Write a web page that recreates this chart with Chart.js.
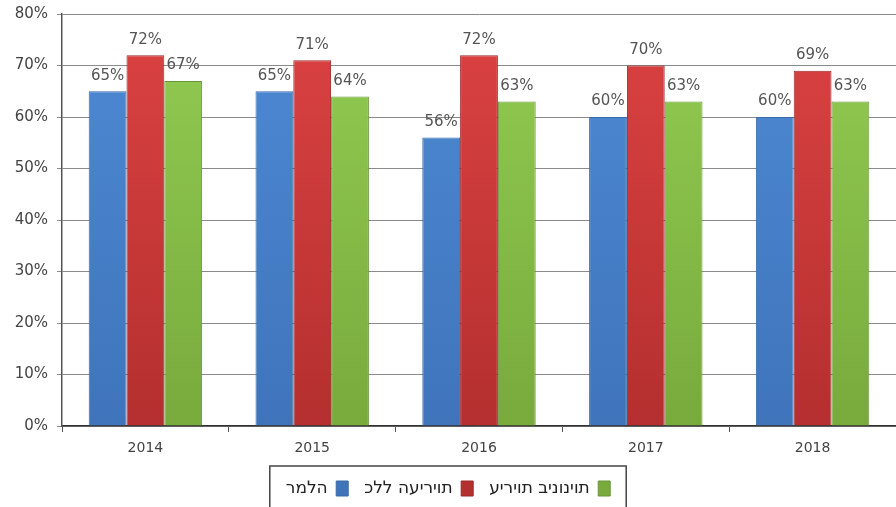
<!DOCTYPE html>
<html dir="ltr">
<head>
<meta charset="utf-8">
<script src="https://cdn.jsdelivr.net/npm/chart.js@4/dist/chart.umd.min.js"></script>
<style>
  html, body { margin: 0; padding: 0; background: #fff; }
  #wrap { width: 896px; height: 507px; position: relative; }
</style>
</head>
<body>
<div id="wrap"><canvas id="BarChart"></canvas></div>
<script>
var years = ["2014", "2015", "2016", "2017", "2018"];
var ramla = [65, 65, 56, 60, 60];          // רמלה
var allCities = [72, 71, 72, 70, 69];      // כלל העיריות
var midCities = [67, 64, 63, 63, 63];      // עיריות בינוניות
var yTicks = [0, 10, 20, 30, 40, 50, 60, 70, 80];

// vertical shading like the original 3D bars
function shade(top, bottom) {
  return function (c) {
    var area = c.chart.chartArea;
    if (!area) return top;
    var g = c.chart.ctx.createLinearGradient(0, area.top, 0, area.bottom);
    g.addColorStop(0, top);
    g.addColorStop(1, bottom);
    return g;
  };
}

// the canvas here draws hebrew without bidi, so hand it visual order
function visual(s) {
  return Array.from(s).reverse().join('');
}

// value labels above bars
var valueLabels = {
  id: 'valueLabels',
  afterDatasetsDraw: function (chart) {
    var ctx = chart.ctx;
    ctx.save();
    ctx.font = '15px "DejaVu Sans"';
    ctx.fillStyle = '#555';
    ctx.textAlign = 'center';
    ctx.textBaseline = 'bottom';
    chart.data.datasets.forEach(function (ds, i) {
      chart.getDatasetMeta(i).data.forEach(function (bar, j) {
        ctx.fillText(ds.data[j] + '%', bar.x, bar.y - 8);
      });
    });
    ctx.restore();
  }
};

// frame around the legend
var legendFrame = {
  id: 'legendFrame',
  afterDraw: function (chart) {
    var boxes = chart.legend.legendHitBoxes;
    if (!boxes || !boxes.length) return;
    var l = Infinity, r = -Infinity, t = Infinity;
    boxes.forEach(function (b) {
      l = Math.min(l, b.left); r = Math.max(r, b.left + b.width); t = Math.min(t, b.top);
    });
    var ctx = chart.ctx;
    ctx.save();
    ctx.strokeStyle = '#444';
    ctx.lineWidth = 1.5;
    ctx.strokeRect(l - 16, t - 14, (r - l) + 32, 60);
    ctx.restore();
  }
};

new Chart(document.getElementById('BarChart').getContext('2d'), {
  type: 'bar',
  data: {
    labels: years,
    datasets: [
      { label: 'רמלה', data: ramla, backgroundColor: shade('#4d8ad4', '#3f74bb'), borderColor: '#3a6aa8', borderWidth: 1 },
      { label: 'כלל העיריות', data: allCities, backgroundColor: shade('#dc4242', '#b42f2f'), borderColor: '#9a2828', borderWidth: 1 },
      { label: 'עיריות בינוניות', data: midCities, backgroundColor: shade('#92cc52', '#78aa3c'), borderColor: '#6a963a', borderWidth: 1 }
    ]
  },
  options: {
    responsive: true,
    maintainAspectRatio: false,
    animation: false,
    layout: { padding: { top: 14, left: 0, right: 0, bottom: 0 } },
    datasets: { bar: { categoryPercentage: 0.68, barPercentage: 1.0 } },
    scales: {
      x: {
        offset: true,
        grid: { offset: true, drawOnChartArea: false, color: '#555', tickLength: 6 },
        border: { color: '#333', width: 1.5 },
        ticks: { color: '#444', font: { family: 'DejaVu Sans', size: 14 }, padding: 8 },
        afterFit: function (s) { s.height = 38; }
      },
      y: {
        min: 0, max: 80,
        afterBuildTicks: function (s) { s.ticks = yTicks.map(function (v) { return { value: v }; }); },
        grid: { color: '#8a8a8a', tickLength: 5 },
        border: { color: '#555', width: 1.5 },
        ticks: { color: '#444', font: { family: 'DejaVu Sans', size: 15 }, padding: 9,
                 callback: function (v) { return v + '%'; } },
        afterFit: function (s) { s.width = 62; s.paddingTop = 0; s.paddingBottom = 0; }
      }
    },
    plugins: {
      legend: {
        position: 'bottom',
        rtl: true,
        reverse: true,
        labels: {
          boxWidth: 12, boxHeight: 15, padding: 16, color: '#222',
          font: { family: 'DejaVu Sans', size: 17 },
          generateLabels: function (chart) {
            return Chart.defaults.plugins.legend.labels.generateLabels(chart).map(function (it) {
              it.text = visual(it.text);
              return it;
            });
          }
        }
      },
      tooltip: { enabled: false }
    }
  },
  plugins: [valueLabels, legendFrame]
});
</script>
</body>
</html>
